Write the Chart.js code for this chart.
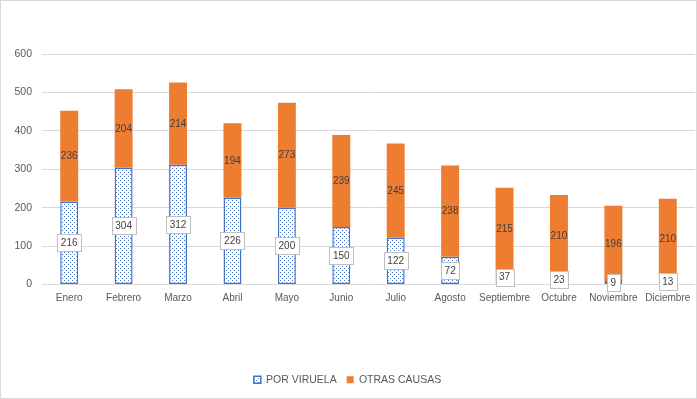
<!DOCTYPE html>
<html>
<head>
<meta charset="utf-8">
<script src="https://cdn.jsdelivr.net/npm/chart.js@4/dist/chart.umd.min.js"></script>
<style>
html,body{margin:0;padding:0;background:#fff;}
canvas{display:block;}
</style>
</head>
<body>
<canvas id="c" width="697" height="399"></canvas>
<script>
const months = ['Enero','Febrero','Marzo','Abril','Mayo','Junio','Julio','Agosto','Septiembre','Octubre','Noviembre','Diciembre'];
const porViruela = [216,304,312,226,200,150,122,72,37,23,9,13];
const otrasCausas = [236,204,214,194,273,239,245,238,215,210,196,210];
const seriesNames = ['POR VIRUELA','OTRAS CAUSAS'];

const FONT = '"Liberation Sans", Arial, sans-serif';
const BLUE = '#4472c4';
const ORANGE = '#ed7d31';

function makePattern(){
  const p = document.createElement('canvas');
  p.width = 4; p.height = 4;
  const g = p.getContext('2d');
  g.fillStyle = '#ffffff'; g.fillRect(0,0,4,4);
  g.fillStyle = BLUE;
  g.fillRect(0,0,1,1);
  g.fillRect(2,2,1,1);
  return g.createPattern(p,'repeat');
}
const ctx = document.getElementById('c').getContext('2d');
const pattern = makePattern();

const borderPlugin = {
  id:'frame',
  beforeDraw(chart){
    const c = chart.ctx;
    c.save();
    c.fillStyle='#fff';
    c.fillRect(0,0,chart.width,chart.height);
    c.restore();
  },
  afterDraw(chart){
    const c = chart.ctx;
    c.save();
    c.strokeStyle='#d9d9d9';
    c.lineWidth=1;
    c.strokeRect(0.5,0.5,chart.width-1,chart.height-1);
    c.restore();
  }
};

const labelPlugin = {
  id:'vlabels',
  afterDatasetsDraw(chart){
    const c = chart.ctx;
    c.save();
    c.font = '10px ' + FONT;
    c.textAlign='center';
    c.textBaseline='middle';
    chart.data.datasets.forEach((ds, di)=>{
      const meta = chart.getDatasetMeta(di);
      meta.data.forEach((el, i)=>{
        const p = el.getProps(['x','y','base'], true);
        const cy = (p.y + p.base)/2;
        const txt = String(ds.data[i]);
        if(di===0){
          const w = Math.round(c.measureText(txt).width + 7);
          const h = 17;
          const x0 = Math.round(p.x - w/2) + 0.5;
          const y0 = Math.round(cy - h/2) + 0.5;
          c.fillStyle='#fff';
          c.fillRect(x0,y0,w,h);
          c.strokeStyle='#bfbfbf';
          c.lineWidth=1;
          c.strokeRect(x0,y0,w,h);
        }
        c.fillStyle='#404040';
        c.fillText(txt, p.x, cy+0.5);
      });
    });
    c.restore();
  }
};

new Chart(ctx, {
  type:'bar',
  data:{
    labels: months,
    datasets:[
      {label: seriesNames[0], data: porViruela, backgroundColor: pattern, borderColor: BLUE, borderWidth: 1.5, borderSkipped: false},
      {label: seriesNames[1], data: otrasCausas, backgroundColor: ORANGE, borderWidth: 0}
    ]
  },
  options:{
    responsive:false,
    animation:false,
    devicePixelRatio:1,
    layout:{padding:{top:54,right:2,left:0,bottom:4}},
    datasets:{bar:{categoryPercentage:1, barPercentage:0.33}},
    scales:{
      x:{
        stacked:true,
        grid:{display:false},
        border:{display:false},
        ticks:{color:'#595959', font:{family:FONT,size:10}, padding:0, maxRotation:0, autoSkip:false},
        afterFit(s){ s.height = 80; }
      },
      y:{
        stacked:true,
        min:0, max:600,
        grid:{color:'#d9d9d9', lineWidth:1, drawTicks:false},
        border:{display:false},
        ticks:{stepSize:100, color:'#595959', font:{family:FONT,size:10.5}, padding:10},
        afterFit(s){ s.width = 42; }
      }
    },
    plugins:{
      legend:{
        position:'bottom',
        labels:{
          color:'#595959',
          font:{family:FONT,size:10.5},
          boxWidth:7, boxHeight:7,
          padding:10
        }
      },
      tooltip:{enabled:false}
    }
  },
  plugins:[borderPlugin, labelPlugin]
});
</script>
</body>
</html>
